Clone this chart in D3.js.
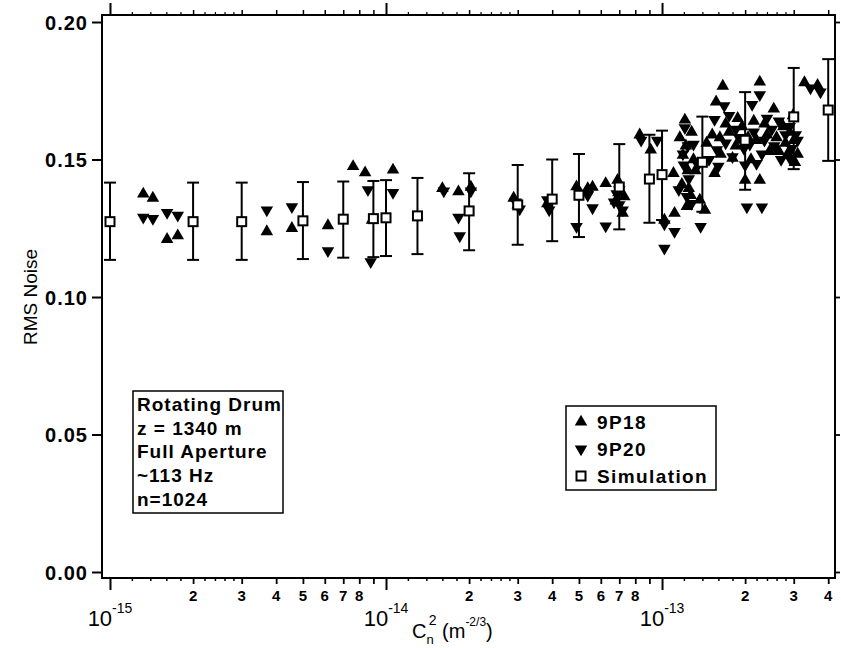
<!DOCTYPE html>
<html>
<head>
<meta charset="utf-8">
<script src="https://cdn.jsdelivr.net/npm/d3@7"></script>
<style>
  body { margin: 0; background: #fff; }
  text { font-family: "Liberation Sans", Arial, Helvetica, sans-serif; fill: #000; }
</style>
</head>
<body>
<script>
// size of the page and of the plot frame
var width = 841;
var height = 648;
var frame = {left: 102, right: 835, top: 15, bottom: 578};

// simulation points (open squares) with their error bars
var simX  = [1e-15, 2e-15, 3e-15, 5e-15, 7e-15, 9e-15, 1e-14, 1.3e-14, 2e-14, 3e-14, 4e-14, 5e-14, 7e-14, 9e-14, 1e-13, 1.4e-13, 2e-13, 3e-13, 4e-13];
var simY  = [0.1274, 0.1274, 0.1274, 0.1277, 0.1283, 0.1285, 0.1288, 0.1295, 0.1313, 0.1335, 0.1356, 0.137, 0.140, 0.1429, 0.1445, 0.149, 0.157, 0.1655, 0.168];
var simLo = [0.1135, 0.1135, 0.1135, 0.1138, 0.1143, 0.1145, 0.1149, 0.1156, 0.117, 0.119, 0.1203, 0.1218, 0.1246, 0.127, 0.128, 0.131, 0.139, 0.1465, 0.1495];
var simHi = [0.1416, 0.1416, 0.1416, 0.1418, 0.142, 0.1422, 0.1425, 0.1433, 0.145, 0.148, 0.150, 0.152, 0.1556, 0.159, 0.1605, 0.1656, 0.1745, 0.1833, 0.1865];

// 9P18 measurements (up triangles)
var p18X = [1.32e-15, 1.43e-15, 1.61e-15, 1.76e-15, 3.7e-15, 4.56e-15, 6.16e-15, 7.6e-15, 8.4e-15, 8.9e-15,
            1.06e-14, 1.6e-14, 1.83e-14, 2.03e-14, 2.9e-14, 3.0e-14, 3.84e-14, 4.9e-14, 5.38e-14, 5.6e-14,
            6.25e-14, 6.9e-14, 6.8e-14, 7.2e-14, 6.95e-14, 7.3e-14,
            8.3e-14, 9.1e-14, 1.02e-13, 1.11e-13, 1.21e-13, 1.16e-13, 1.19e-13, 1.24e-13, 1.18e-13, 1.27e-13,
            1.37e-13, 1.43e-13, 1.57e-13, 1.52e-13, 1.66e-13, 1.55e-13, 1.63e-13, 1.75e-13, 1.85e-13, 1.95e-13,
            2.0e-13, 2.26e-13, 2.26e-13, 2.54e-13, 2.98e-13, 3.03e-13, 3.28e-13, 3.66e-13, 2.1e-13, 2.2e-13,
            2.35e-13, 2.45e-13, 2.6e-13, 2.75e-13, 2.85e-13, 3.0e-13, 1.1e-13, 1.3e-13,
            1.22e-13, 1.25e-13, 1.23e-13, 1.28e-13, 1.32e-13, 1.45e-13, 1.62e-13, 1.7e-13, 1.8e-13, 1.88e-13,
            2.05e-13, 2.15e-13, 2.4e-13, 2.65e-13, 2.8e-13, 2.9e-13, 3.1e-13];
var p18Y = [0.1375, 0.136, 0.121, 0.1223, 0.1238, 0.125, 0.126, 0.1475, 0.1452, 0.128,
            0.1462, 0.1395, 0.1383, 0.140, 0.136, 0.1335, 0.134, 0.1401, 0.1395, 0.140,
            0.1413, 0.1425, 0.135, 0.1305, 0.138, 0.1365,
            0.159, 0.1535, 0.128, 0.1305, 0.1644, 0.158, 0.1516, 0.146, 0.141, 0.137,
            0.1353, 0.1316, 0.171, 0.159, 0.1767, 0.145, 0.152, 0.160, 0.155, 0.162,
            0.1425, 0.1425, 0.1782, 0.1684, 0.166, 0.149, 0.178, 0.177, 0.150, 0.157,
            0.163, 0.153, 0.158, 0.162, 0.152, 0.157, 0.145, 0.150,
            0.155, 0.1395, 0.133, 0.160, 0.146, 0.156, 0.158, 0.163, 0.1505, 0.165,
            0.158, 0.164, 0.159, 0.153, 0.156, 0.160, 0.152];

// 9P20 measurements (down triangles)
var p20X = [1.32e-15, 1.43e-15, 1.61e-15, 1.76e-15, 3.7e-15, 4.56e-15, 6.16e-15, 8.6e-15, 8.8e-15, 1.06e-14,
            1.62e-14, 1.83e-14, 1.85e-14, 2.03e-14, 2.95e-14, 3.05e-14, 3.84e-14, 3.9e-14, 4.9e-14, 5.38e-14,
            5.6e-14, 6.25e-14, 7.0e-14, 7.2e-14, 6.7e-14, 7.0e-14, 6.85e-14,
            8.4e-14, 9.6e-14, 1.02e-13, 1.02e-13, 1.11e-13, 1.21e-13, 1.24e-13, 1.2e-13, 1.25e-13, 1.15e-13,
            1.28e-13, 1.38e-13, 1.55e-13, 1.58e-13, 1.68e-13, 2.12e-13, 2.26e-13, 2.03e-13, 2.3e-13, 3.45e-13,
            3.75e-13, 1.7e-13, 1.8e-13, 1.9e-13, 2.0e-13, 2.15e-13, 2.3e-13, 2.4e-13, 2.55e-13, 2.7e-13,
            2.8e-13, 2.95e-13, 3.1e-13, 2.9e-13,
            1.19e-13, 1.23e-13, 1.3e-13, 1.35e-13, 1.48e-13, 1.6e-13, 1.75e-13, 1.85e-13, 1.98e-13, 2.08e-13,
            2.2e-13, 2.35e-13, 2.5e-13, 2.65e-13, 2.9e-13, 3.05e-13];
var p20Y = [0.129, 0.1285, 0.1307, 0.1297, 0.1316, 0.1328, 0.1168, 0.139, 0.1128, 0.138,
            0.1385, 0.129, 0.1222, 0.1385, 0.1345, 0.132, 0.1353, 0.1316, 0.1256, 0.137,
            0.1324, 0.1258, 0.139, 0.1316, 0.1345, 0.1335, 0.1375,
            0.157, 0.157, 0.1177, 0.1265, 0.1238, 0.1615, 0.155, 0.148, 0.143, 0.139,
            0.134, 0.1256, 0.1645, 0.1535, 0.1695, 0.170, 0.1735, 0.1327, 0.1327, 0.176,
            0.1745, 0.156, 0.151, 0.158, 0.148, 0.160, 0.152, 0.165, 0.155, 0.150,
            0.159, 0.154, 0.157, 0.162,
            0.152, 0.1365, 0.1555, 0.148, 0.150, 0.1475, 0.166, 0.161, 0.154, 0.1555,
            0.1485, 0.157, 0.161, 0.164, 0.1505, 0.159];

// axis ticks
var yTicks = [0.00, 0.05, 0.10, 0.15, 0.20];
var decades = [-15, -14, -13];
var minorMult = [2, 3, 4, 5, 6, 7, 8, 9];
var labelMult = [2, 3, 4, 5, 6, 7, 8];
var subMult = [1.2, 1.4, 1.6, 1.8, 2.2, 2.4, 2.6, 2.8];

var legendItems = ["9P18", "9P20", "Simulation"];
var noteLines = ["Rotating Drum", "z = 1340 m", "Full Aperture", "~113 Hz", "n=1024"];

// scales
var x = d3.scaleLog()
  .domain([9.355e-16, 4.233e-13])
  .range([frame.left, frame.right]);
var y = d3.scaleLinear()
  .domain([-0.00218, 0.20255])
  .range([frame.bottom, frame.top]);

function inside(v) { return v >= x.domain()[0] && v <= x.domain()[1]; }
var majorTicks = decades.map(function(d) { return Math.pow(10, d); });
var minorTicks = [], subTicks = [], labelTicks = [];
decades.forEach(function(d) {
  minorMult.forEach(function(m) { minorTicks.push(m * Math.pow(10, d)); });
  subMult.forEach(function(m) { subTicks.push(m * Math.pow(10, d)); });
  labelMult.forEach(function(m) { labelTicks.push({v: m * Math.pow(10, d), m: m}); });
});
minorTicks = minorTicks.filter(inside);
subTicks = subTicks.filter(inside);
labelTicks = labelTicks.filter(function(t) { return inside(t.v); });

var svg = d3.select("body").append("svg")
  .attr("width", width)
  .attr("height", height);

svg.append("rect").attr("width", width).attr("height", height).attr("fill", "#fff");

// tick marks on all four sides
function tickGroup(axis, tx, ty, sw) {
  var g = svg.append("g")
    .attr("transform", "translate(" + tx + "," + ty + ")")
    .call(axis);
  g.select(".domain").remove();
  g.selectAll(".tick line").attr("stroke", "#000").attr("stroke-width", sw);
  return g;
}

tickGroup(d3.axisBottom(x).tickValues(majorTicks).tickSize(12).tickFormat(""), 0, frame.bottom, 2);
tickGroup(d3.axisBottom(x).tickValues(minorTicks).tickSize(6).tickFormat(""), 0, frame.bottom, 1.8);
tickGroup(d3.axisBottom(x).tickValues(subTicks).tickSize(3).tickFormat(""), 0, frame.bottom, 1.5);
tickGroup(d3.axisTop(x).tickValues(majorTicks).tickSize(12).tickFormat(""), 0, frame.top, 2);
tickGroup(d3.axisTop(x).tickValues(minorTicks).tickSize(5).tickFormat(""), 0, frame.top, 1.5);
tickGroup(d3.axisTop(x).tickValues(subTicks).tickSize(3).tickFormat(""), 0, frame.top, 1.2);
tickGroup(d3.axisRight(y).tickValues(yTicks).tickSize(5).tickFormat(""), frame.right, 0, 1.8);

var yAxis = tickGroup(d3.axisLeft(y).tickValues(yTicks).tickSize(10).tickPadding(4).tickFormat(d3.format(".2f")), frame.left, 0, 2);
yAxis.selectAll(".tick text")
  .attr("fill", "#000")
  .style("font-size", "20px")
  .style("font-weight", "bold")
  .style("letter-spacing", "1px")
  .attr("dy", "0.36em");

// x tick labels
svg.selectAll(".minorLabel")
  .data(labelTicks)
  .enter()
  .append("text")
  .attr("class", "minorLabel")
  .attr("x", function(d) { return x(d.v); })
  .attr("y", frame.bottom + 23)
  .attr("text-anchor", "middle")
  .style("font-size", "15px")
  .style("font-weight", "bold")
  .text(function(d) { return d.m; });

var majLab = svg.selectAll(".majorLabel")
  .data(decades)
  .enter()
  .append("text")
  .attr("class", "majorLabel")
  .attr("x", function(d) { return x(Math.pow(10, d)); })
  .attr("y", frame.bottom + 48)
  .attr("text-anchor", "middle");
majLab.append("tspan").style("font-size", "22px").text("10");
majLab.append("tspan").style("font-size", "14px").attr("dy", -13).text(function(d) { return d; });

// axis titles
svg.append("text")
  .attr("transform", "translate(37," + y(0.1) + ") rotate(-90)")
  .attr("text-anchor", "middle")
  .style("font-size", "19px")
  .text("RMS Noise");

var xt = svg.append("text")
  .attr("x", 412)
  .attr("y", 638)
  .style("font-size", "20px");
xt.append("tspan").text("C");
xt.append("tspan").style("font-size", "13px").attr("dy", 6).text("n");
xt.append("tspan").style("font-size", "14px").attr("dx", -5).attr("dy", -19).text("2");
xt.append("tspan").attr("dy", 13).text(" (m");
xt.append("tspan").style("font-size", "12px").attr("dy", -12).text("-2/3");
xt.append("tspan").attr("dy", 12).text(")");

// measured points
var up = d3.symbol().type(d3.symbolTriangle).size(68);

svg.selectAll(".p18")
  .data(d3.range(p18X.length))
  .enter()
  .append("path")
  .attr("class", "p18")
  .attr("d", up)
  .attr("transform", function(i) { return "translate(" + x(p18X[i]) + "," + y(p18Y[i]) + ")"; })
  .attr("fill", "#000");

svg.selectAll(".p20")
  .data(d3.range(p20X.length))
  .enter()
  .append("path")
  .attr("class", "p20")
  .attr("d", up)
  .attr("transform", function(i) { return "translate(" + x(p20X[i]) + "," + y(p20Y[i]) + ") rotate(180)"; })
  .attr("fill", "#000");

// simulation error bars and squares
var sim = d3.range(simX.length);
var bars = svg.selectAll(".bar").data(sim).enter().append("g").attr("class", "bar")
  .attr("stroke", "#000").attr("stroke-width", 2);
bars.append("line")
  .attr("x1", function(i) { return x(simX[i]); })
  .attr("x2", function(i) { return x(simX[i]); })
  .attr("y1", function(i) { return y(simLo[i]); })
  .attr("y2", function(i) { return y(simHi[i]); });
bars.append("line")
  .attr("x1", function(i) { return x(simX[i]) - 6; })
  .attr("x2", function(i) { return x(simX[i]) + 6; })
  .attr("y1", function(i) { return y(simHi[i]); })
  .attr("y2", function(i) { return y(simHi[i]); });
bars.append("line")
  .attr("x1", function(i) { return x(simX[i]) - 6; })
  .attr("x2", function(i) { return x(simX[i]) + 6; })
  .attr("y1", function(i) { return y(simLo[i]); })
  .attr("y2", function(i) { return y(simLo[i]); });

svg.selectAll(".sq")
  .data(sim)
  .enter()
  .append("rect")
  .attr("class", "sq")
  .attr("x", function(i) { return x(simX[i]) - 4.5; })
  .attr("y", function(i) { return y(simY[i]) - 4.5; })
  .attr("width", 9)
  .attr("height", 9)
  .attr("fill", "#fff")
  .attr("stroke", "#000")
  .attr("stroke-width", 2);

// frame
svg.append("rect")
  .attr("x", frame.left)
  .attr("y", frame.top)
  .attr("width", frame.right - frame.left)
  .attr("height", frame.bottom - frame.top)
  .attr("fill", "none")
  .attr("stroke", "#000")
  .attr("stroke-width", 2);

// note box
var note = svg.append("g").attr("transform", "translate(133,391)");
note.append("rect").attr("width", 150).attr("height", 122)
  .attr("fill", "#fff").attr("stroke", "#000").attr("stroke-width", 1.5);
note.selectAll("text")
  .data(noteLines)
  .enter()
  .append("text")
  .attr("x", 4)
  .attr("y", function(d, i) { return 20 + i * 23.7; })
  .style("font-size", "19px")
  .style("font-weight", "bold")
  .style("letter-spacing", "1px")
  .text(function(d) { return d; });

// legend
var leg = svg.append("g").attr("transform", "translate(566,406)");
leg.append("rect").attr("width", 150).attr("height", 84)
  .attr("fill", "#fff").attr("stroke", "#000").attr("stroke-width", 1.5);
var rows = leg.selectAll(".row")
  .data(legendItems)
  .enter()
  .append("g")
  .attr("class", "row")
  .attr("transform", function(d, i) { return "translate(0," + (16 + i * 27) + ")"; });
rows.append("text")
  .attr("x", 31)
  .attr("y", 7)
  .style("font-size", "19px")
  .style("font-weight", "bold")
  .style("letter-spacing", "1.4px")
  .text(function(d) { return d; });
rows.filter(function(d, i) { return i < 2; })
  .append("path")
  .attr("d", up)
  .attr("transform", function(d, i) { return "translate(15,0)" + (i === 1 ? " rotate(180)" : ""); })
  .attr("fill", "#000");
rows.filter(function(d, i) { return i === 2; })
  .append("rect")
  .attr("x", 10.5).attr("y", -4.5).attr("width", 9).attr("height", 9)
  .attr("fill", "#fff").attr("stroke", "#000").attr("stroke-width", 2);
</script>
</body>
</html>
